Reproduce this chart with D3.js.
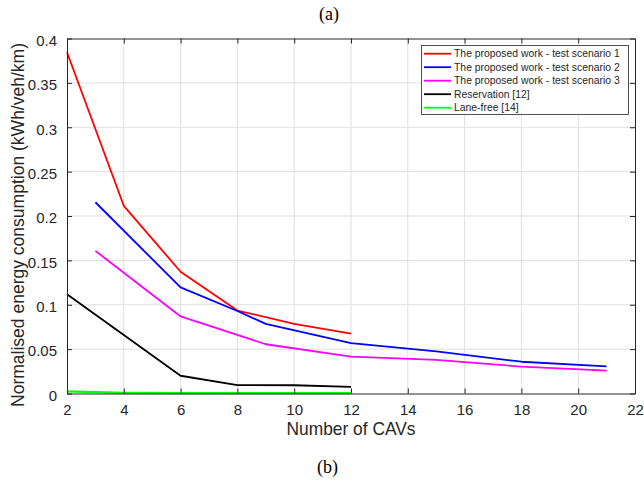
<!DOCTYPE html>
<html>
<head>
<meta charset="utf-8">
<script src="https://cdn.jsdelivr.net/npm/d3@7"></script>
<style>
  body { margin: 0; background: #fff; }
  svg { display: block; }
</style>
</head>
<body>
<svg id="chart" width="644" height="483"></svg>
<script>
// Normalised energy consumption versus number of CAVs
const seriesNames = [
  "The proposed work - test scenario 1",
  "The proposed work - test scenario 2",
  "The proposed work - test scenario 3",
  "Reservation [12]",
  "Lane-free [14]"
];
const seriesColors = ["#ff0000", "#0000ff", "#ff00ff", "#000000", "#00ff00"];

const scenario1X = [2, 4, 6, 8, 10, 12];
const scenario1Y = [0.3845, 0.2115, 0.1372, 0.0935, 0.0785, 0.0675];

const scenario2X = [3, 6, 8, 9, 12, 15, 18, 21];
const scenario2Y = [0.2155, 0.1195, 0.0930, 0.0785, 0.0567, 0.0475, 0.0358, 0.0305];

const scenario3X = [3, 6, 9, 12, 15, 18, 21];
const scenario3Y = [0.1607, 0.0868, 0.0555, 0.0415, 0.0378, 0.0303, 0.0258];

const reservationX = [2, 4, 6, 8, 10, 12];
const reservationY = [0.1118, 0.0660, 0.0200, 0.0095, 0.0093, 0.0075];

const laneFreeX = [2, 4, 6, 8, 10, 12];
const laneFreeY = [0.0025, 0.0008, 0.0005, 0.0005, 0.0005, 0.0005];

const xTicks = [2, 4, 6, 8, 10, 12, 14, 16, 18, 20, 22];
const yTicks = [0, 0.05, 0.1, 0.15, 0.2, 0.25, 0.3, 0.35, 0.4];
const yTickLabels = ["0", "0.05", "0.1", "0.15", "0.2", "0.25", "0.3", "0.35", "0.4"];

const seriesX = [scenario1X, scenario2X, scenario3X, reservationX, laneFreeX];
const seriesY = [scenario1Y, scenario2Y, scenario3Y, reservationY, laneFreeY];

const svg = d3.select("#chart");
const margin = { left: 67, right: 9, top: 38.5, bottom: 89.5 };
const W = 644, H = 483;
const x = d3.scaleLinear().domain([2, 22]).range([margin.left, W - margin.right]);
const y = d3.scaleLinear().domain([0, 0.4]).range([H - margin.bottom, margin.top]);

const textColor = "#262626";
const font = "'Liberation Sans', Arial, Helvetica, sans-serif";
const serif = "'Liberation Serif', 'Times New Roman', serif";

// grid
const grid = svg.append("g");
grid.selectAll(".gx").data(xTicks.slice(1, -1)).enter().append("line")
  .attr("x1", d => x(d)).attr("x2", d => x(d))
  .attr("y1", y(0)).attr("y2", y(0.4))
  .attr("stroke", "#dfdfdf").attr("stroke-width", 1);
grid.selectAll(".gy").data(yTicks.slice(1, -1)).enter().append("line")
  .attr("y1", d => y(d)).attr("y2", d => y(d))
  .attr("x1", x(2)).attr("x2", x(22))
  .attr("stroke", "#dfdfdf").attr("stroke-width", 1);

// series
const line = d3.line().x(d => x(d[0])).y(d => y(d[1]));
seriesNames.forEach((name, i) => {
  const pts = seriesX[i].map((v, j) => [v, seriesY[i][j]]);
  svg.append("path").datum(pts)
    .attr("d", line)
    .attr("fill", "none")
    .attr("stroke", seriesColors[i])
    .attr("stroke-width", i === 4 ? 2.2 : 1.8)
    .attr("stroke-linejoin", "round");
});

// axes (box with inward ticks)
function styleAxis(g) {
  g.select(".domain").attr("stroke", "#262626").attr("stroke-width", 1);
  g.selectAll(".tick line").attr("stroke", "#262626");
  g.selectAll(".tick text").attr("fill", textColor)
    .style("font-family", font).style("font-size", "15px");
}
const xAxis = d3.axisBottom(x).tickValues(xTicks).tickSizeInner(-5).tickSizeOuter(0).tickPadding(11).tickFormat(d3.format("d"));
svg.append("g").attr("transform", `translate(0,${y(0)})`).call(xAxis).call(styleAxis);
const xAxisTop = d3.axisTop(x).tickValues(xTicks).tickSizeInner(-5).tickSizeOuter(0).tickFormat("");
svg.append("g").attr("transform", `translate(0,${y(0.4)})`).call(xAxisTop).call(styleAxis);
const yAxis = d3.axisLeft(y).tickValues(yTicks).tickSizeInner(-5).tickSizeOuter(0).tickPadding(10)
  .tickFormat((d, i) => yTickLabels[i]);
const yAxisG = svg.append("g").attr("transform", `translate(${x(2)},0)`).call(yAxis).call(styleAxis);
yAxisG.selectAll(".tick text").attr("dy", "0.45em");
const yAxisRight = d3.axisRight(y).tickValues(yTicks).tickSizeInner(-5).tickSizeOuter(0).tickFormat("");
svg.append("g").attr("transform", `translate(${x(22)},0)`).call(yAxisRight).call(styleAxis);

// axis titles
svg.append("text")
  .attr("x", 351).attr("y", 435)
  .attr("text-anchor", "middle").attr("fill", textColor)
  .attr("textLength", 129).attr("lengthAdjust", "spacingAndGlyphs")
  .style("font-family", font).style("font-size", "18.5px")
  .text("Number of CAVs");
svg.append("text")
  .attr("transform", `translate(24,225) rotate(-90)`)
  .attr("text-anchor", "middle").attr("fill", textColor)
  .attr("textLength", 364).attr("lengthAdjust", "spacingAndGlyphs")
  .style("font-family", font).style("font-size", "17.5px")
  .text("Normalised energy consumption (kWh/veh/km)");

// panel captions
svg.append("text").attr("x", 329).attr("y", 20).attr("text-anchor", "middle")
  .style("font-family", serif).style("font-size", "18px")
  .text("(a)");
svg.append("text").attr("x", 327.5).attr("y", 473).attr("text-anchor", "middle")
  .style("font-family", serif).style("font-size", "18px")
  .text("(b)");

// legend
const lg = svg.append("g");
lg.append("rect").attr("x", 421.5).attr("y", 45.5).attr("width", 207).attr("height", 69)
  .attr("fill", "#fff").attr("stroke", "#262626").attr("stroke-width", 0.8);
seriesNames.forEach((name, i) => {
  const cy = 53.7 + i * 13.5;
  lg.append("line").attr("x1", 424).attr("x2", 451).attr("y1", cy).attr("y2", cy)
    .attr("stroke", seriesColors[i]).attr("stroke-width", 1.8);
  lg.append("text").attr("x", 454).attr("y", cy + 3.6)
    .attr("fill", textColor)
    .style("font-family", font).style("font-size", "10.4px")
    .text(name);
});
</script>
</body>
</html>
